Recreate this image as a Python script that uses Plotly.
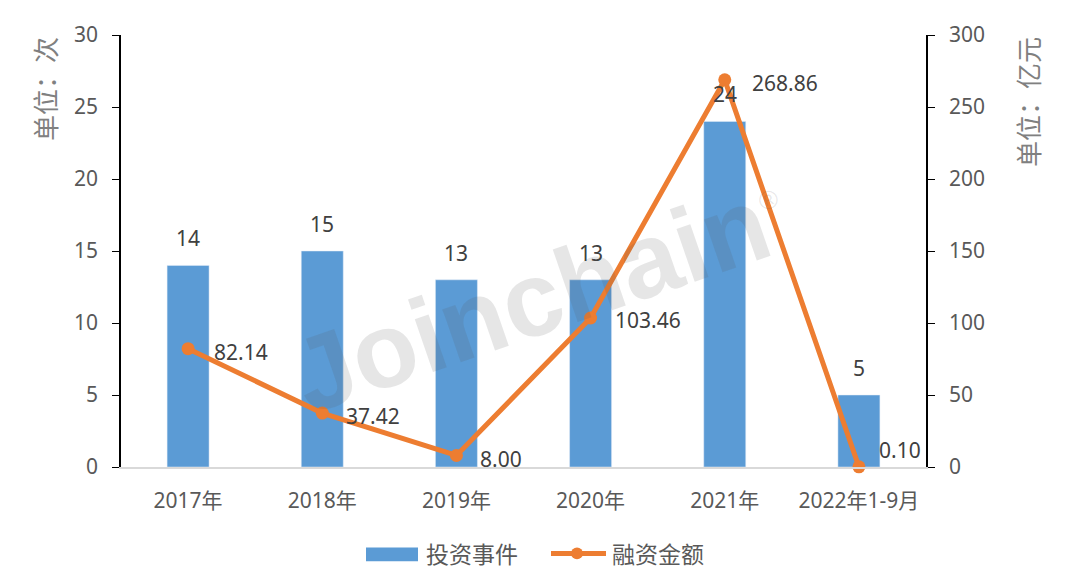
import plotly.graph_objects as go

categories = ["2017年", "2018年", "2019年", "2020年", "2021年", "2022年1-9月"]
events = [14, 15, 13, 13, 24, 5]
amounts = [82.14, 37.42, 8.00, 103.46, 268.86, 0.10]
amount_labels = ["82.14", "37.42", "8.00", "103.46", "268.86", "0.10"]
left_ticks = [0, 5, 10, 15, 20, 25, 30]
right_ticks = [0, 50, 100, 150, 200, 250, 300]

# label offsets (pixels) for the line's data labels
label_dx = [24, 22, 22, 22, 25, 18]
label_dy = [-3, -3, -4, -2, -3, 17]

BAR = "#5B9BD5"
LINE = "#ED7D31"
TXT = "#404040"
TICK = "#595959"
FONT = "Noto Sans, Noto Sans CJK SC, sans-serif"
CJK = "Noto Sans CJK SC"

# plot area in screen pixels (for legend placement helper)
PX0, PX1, PY0, PY1 = 121, 926, 32, 467


def px(x):
    return (x - PX0) / (PX1 - PX0)


def py(y):
    return (PY1 - y) / (PY1 - PY0)


fig = go.Figure()
fig.add_trace(go.Bar(
    x=categories, y=events, name="投资事件", marker_color=BAR,
    width=0.313, yaxis="y", hoverinfo="skip", showlegend=False,
))
fig.add_trace(go.Scatter(
    x=categories, y=amounts, name="融资金额", yaxis="y2",
    mode="lines+markers", line=dict(color=LINE, width=5),
    marker=dict(color=LINE, size=13), cliponaxis=False, showlegend=False,
))

# bar value labels
for c, v in zip(categories, events):
    fig.add_annotation(x=c, y=v, yref="y", text=str(v), showarrow=False,
                       yanchor="middle", yshift=27,
                       font=dict(size=21, color=TXT, family=FONT))

# line value labels
for c, v, t, dx, dy in zip(categories, amounts, amount_labels, label_dx, label_dy):
    fig.add_annotation(x=c, y=v, yref="y2", text=t, showarrow=False,
                       xanchor="left", yanchor="middle", xshift=dx, yshift=dy,
                       font=dict(size=21, color=TXT, family=FONT))

# axis titles
fig.add_annotation(xref="paper", yref="paper", x=px(44), y=1.0, yanchor="top",
                   xanchor="center", text="单位：次", textangle=-90, showarrow=False,
                   font=dict(size=26, color="#808080", family=CJK))
fig.add_annotation(xref="paper", yref="paper", x=px(1027), y=1.0, yanchor="top",
                   xanchor="center", text="单位：亿元", textangle=-90, showarrow=False,
                   font=dict(size=26, color="#808080", family=CJK))

# watermark
fig.add_annotation(xref="paper", yref="paper", x=px(540), y=py(295),
                   xanchor="center", yanchor="middle",
                   text="<b>Joinchain</b><sup><span style='font-size:26px'>®</span></sup>",
                   textangle=-19, showarrow=False,
                   font=dict(size=106, color="rgba(90,90,90,0.15)", family="Liberation Sans"))

# custom legend
fig.add_shape(type="rect", xref="paper", yref="paper",
              x0=px(366), x1=px(418), y0=py(562), y1=py(548),
              fillcolor=BAR, line_width=0)
fig.add_annotation(xref="paper", yref="paper", x=px(424), y=py(554),
                   xanchor="left", yanchor="middle",
                   text="投资事件", showarrow=False,
                   font=dict(size=23, color=TICK, family=CJK))
fig.add_shape(type="line", xref="paper", yref="paper",
              x0=px(551), x1=px(606), y0=py(554), y1=py(554),
              line=dict(color=LINE, width=5))
fig.add_shape(type="circle", xref="paper", yref="paper",
              x0=px(571), x1=px(583), y0=py(560), y1=py(548),
              fillcolor=LINE, line_width=0)
fig.add_annotation(xref="paper", yref="paper", x=px(610), y=py(554),
                   xanchor="left", yanchor="middle",
                   text="融资金额", showarrow=False,
                   font=dict(size=23, color=TICK, family=CJK))

fig.update_layout(
    width=1072, height=577,
    margin=dict(l=113, r=154, t=24, b=118),
    paper_bgcolor="white", plot_bgcolor="white",
    font=dict(family=FONT, color=TICK, size=21),
    showlegend=False,
    xaxis=dict(showline=True, linecolor="#d9d9d9", linewidth=1.5, ticks="",
               tickfont=dict(size=21, color=TICK), showgrid=False, zeroline=False,
               ticklabelstandoff=14),
    yaxis=dict(range=[0, 30], tickvals=left_ticks, showline=True, linecolor="black",
               linewidth=1.5, ticks="outside", ticklen=7, tickcolor="black",
               showgrid=False, zeroline=False, tickfont=dict(size=21, color=TICK),
               ticklabelstandoff=10),
    yaxis2=dict(range=[0, 300], tickvals=right_ticks, overlaying="y", side="right",
                showline=True, linecolor="black", linewidth=1.5, ticks="outside",
                ticklen=7, tickcolor="black", showgrid=False, zeroline=False,
                tickfont=dict(size=21, color=TICK), ticklabelstandoff=10),
)

fig.write_html("out.html")
